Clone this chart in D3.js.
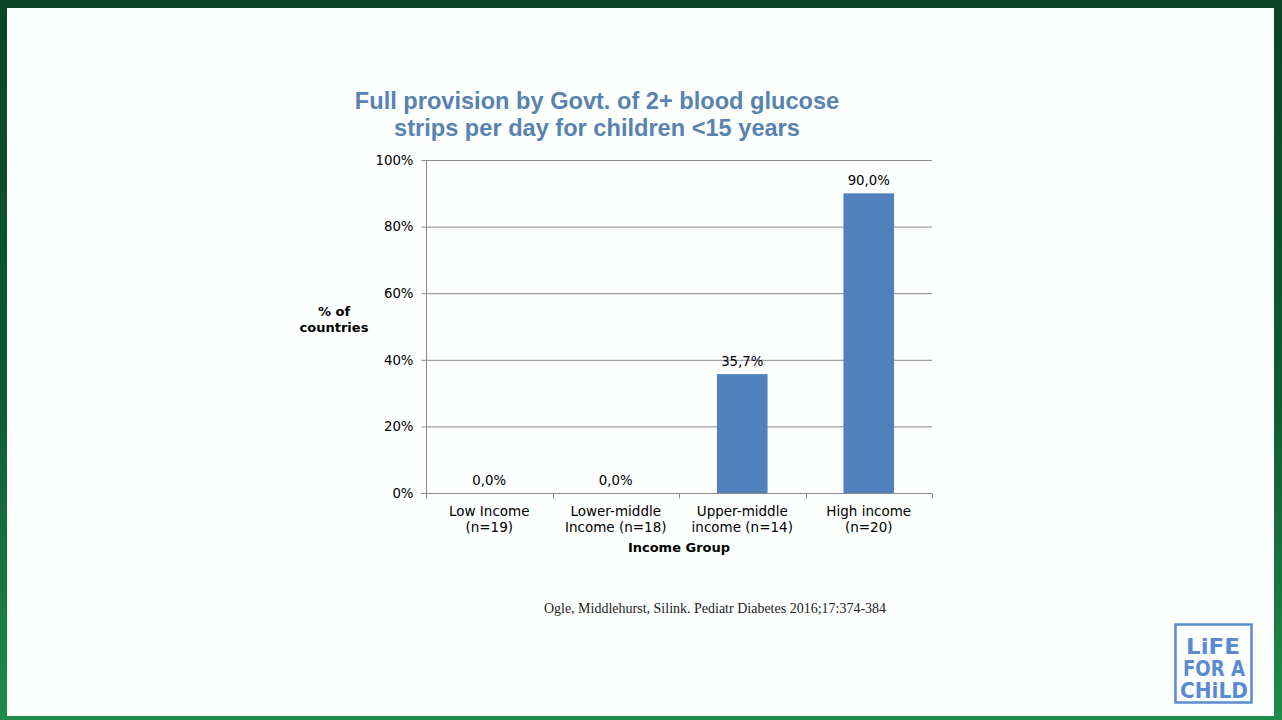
<!DOCTYPE html>
<html>
<head>
<meta charset="utf-8">
<script src="https://cdn.jsdelivr.net/npm/d3@7"></script>
<style>
html,body{margin:0;padding:0;background:#fff;overflow:hidden;}
</style>
</head>
<body>
<svg id="chart" width="1282" height="720"></svg>
<script>
const categories = [["Low Income","(n=19)"],["Lower-middle","Income (n=18)"],["Upper-middle","income (n=14)"],["High income","(n=20)"]];
const values = [0.0, 0.0, 35.7, 90.0];
const valueLabels = ["0,0%","0,0%","35,7%","90,0%"];
const yTicks = [0,20,40,60,80,100];
const titleLines = ["Full provision by Govt. of 2+ blood glucose","strips per day for children <15 years"];
const yTitle = ["% of","countries"];
const xTitle = "Income Group";
const citation = "Ogle, Middlehurst, Silink. Pediatr Diabetes 2016;17:374-384";

const svg = d3.select("#chart");
const defs = svg.append("defs");
const g1 = defs.append("linearGradient").attr("id","bg").attr("x1",0).attr("y1",0).attr("x2",0).attr("y2",1);
g1.append("stop").attr("offset","0%").attr("stop-color","#0a4526");
g1.append("stop").attr("offset","55%").attr("stop-color","#0f5a30");
g1.append("stop").attr("offset","100%").attr("stop-color","#1f8c4a");
svg.append("rect").attr("width",1282).attr("height",720).attr("fill","url(#bg)");
svg.append("rect").attr("x",7).attr("y",8).attr("width",1267).attr("height",708).attr("fill","#fdfefe");

const m = {left:426, right:932, top:160, bottom:493};
const x = d3.scaleBand().domain(d3.range(categories.length)).range([m.left,m.right]).paddingInner(0.6).paddingOuter(0.3);
const y = d3.scaleLinear().domain([0,100]).range([m.bottom,m.top]);

// gridlines
svg.append("g").selectAll("line").data(yTicks.filter(d=>d>0)).join("line")
  .attr("x1",m.left).attr("x2",m.right).attr("y1",d=>y(d)+0.5).attr("y2",d=>y(d)+0.5)
  .attr("stroke","#8a8a8a").attr("stroke-width",1);

// bars
svg.append("g").selectAll("rect").data(values).join("rect")
  .attr("x",(d,i)=>x(i)).attr("width",x.bandwidth())
  .attr("y",d=>y(d)).attr("height",d=>y(0)-y(d))
  .attr("fill","#4f81bd");

const fontTick = "'DejaVu Sans', Verdana, sans-serif";

// y axis
const yAxis = d3.axisLeft(y).tickValues(yTicks).tickFormat(d=>d+"%").tickSize(5).tickPadding(8);
const ya = svg.append("g").attr("transform",`translate(${m.left+0.5},0)`).call(yAxis);
ya.select(".domain").attr("stroke","#8a8a8a").attr("d",`M0,${m.top}V${m.bottom}`);
ya.selectAll(".tick line").attr("stroke","#8a8a8a");
ya.selectAll("text").attr("font-family",fontTick).attr("font-size","13.3px").attr("fill","#000");

// x axis
const xa = svg.append("g").attr("transform",`translate(0,${m.bottom+0.5})`);
xa.append("line").attr("x1",m.left-5).attr("x2",m.right).attr("y1",0).attr("y2",0).attr("stroke","#8a8a8a");
const bounds = d3.range(categories.length+1).map(i=>m.left+(m.right-m.left)*i/categories.length);
xa.selectAll(".tk").data(bounds).join("line").attr("class","tk")
  .attr("x1",d=>Math.round(d)+0.5).attr("x2",d=>Math.round(d)+0.5).attr("y1",0).attr("y2",5).attr("stroke","#8a8a8a");
const xl = xa.selectAll(".cl").data(categories).join("text").attr("class","cl")
  .attr("text-anchor","middle")
  .attr("font-family",fontTick).attr("font-size","13.5px").attr("fill","#000");
xl.each(function(d,i){
  const t = d3.select(this);
  d.forEach((line,j)=>{
    t.append("tspan").attr("x",x(i)+x.bandwidth()/2).attr("y",22+j*16).text(line);
  });
});

// value labels
svg.append("g").selectAll("text").data(values).join("text")
  .attr("x",(d,i)=>x(i)+x.bandwidth()/2).attr("y",d=>y(d)-8)
  .attr("text-anchor","middle")
  .attr("font-family",fontTick).attr("font-size","13.3px").attr("fill","#000")
  .text((d,i)=>valueLabels[i]);

// title
svg.append("g").selectAll("text").data(titleLines).join("text")
  .attr("x",597).attr("y",(d,i)=>109+i*27)
  .attr("text-anchor","middle")
  .attr("font-family","'Liberation Sans', Arial, sans-serif").attr("font-weight","bold").attr("font-size","23.6px")
  .attr("fill","#5883b0").text(d=>d);

// y title
svg.append("g").selectAll("text").data(yTitle).join("text")
  .attr("x",334).attr("y",(d,i)=>316+i*16)
  .attr("text-anchor","middle")
  .attr("font-family",fontTick).attr("font-weight","bold").attr("font-size","13px")
  .attr("fill","#000").text(d=>d);

// x title
svg.append("text").attr("x",679).attr("y",552).attr("text-anchor","middle")
  .attr("font-family",fontTick).attr("font-weight","bold").attr("font-size","13px")
  .attr("fill","#000").text(xTitle);

// citation
svg.append("text").attr("x",715).attr("y",613).attr("text-anchor","middle")
  .attr("font-family","'Liberation Serif', 'Times New Roman', serif").attr("font-size","14px")
  .attr("fill","#222").text(citation);

// logo
const logo = svg.append("g");
logo.append("rect").attr("x",1175.5).attr("y",624.5).attr("width",76).attr("height",78)
  .attr("fill","none").attr("stroke","#5a8ad0").attr("stroke-width",2.5);
const logoLines = [["LiFE",1186,654,54],["FOR A",1183,676,62],["CHiLD",1180,698,68]];
logo.selectAll("text").data(logoLines).join("text")
  .attr("x",d=>d[1]).attr("y",d=>d[2])
  .attr("font-family","'DejaVu Sans', sans-serif").attr("font-weight","bold").attr("font-size","21px")
  .attr("fill","#5a8ad0").attr("textLength",d=>d[3]).attr("lengthAdjust","spacingAndGlyphs")
  .text(d=>d[0]);
</script>
</body>
</html>
